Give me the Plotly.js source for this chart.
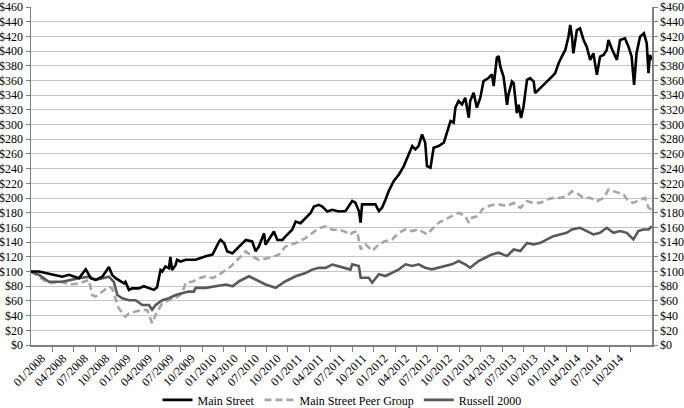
<!DOCTYPE html>
<html>
<head>
<meta charset="utf-8">
<script src="https://cdn.plot.ly/plotly-3.0.1.min.js"></script>
<style>
  html, body { margin: 0; padding: 0; background: #fff; }
  #chart { width: 684px; height: 408px; }
</style>
</head>
<body>
<div id="chart"></div>
<script>
// x values: trading-day index from 01/2008 (category axis of daily prices)
const quarterLabels = ['01/2008','04/2008','07/2008','10/2008','01/2009','04/2009','07/2009','10/2009',
  '01/2010','04/2010','07/2010','10/2010','01/2011','04/2011','07/2011','10/2011',
  '01/2012','04/2012','07/2012','10/2012','01/2013','04/2013','07/2013','10/2013',
  '01/2014','04/2014','07/2014','10/2014'];
const totalDays = 1769;
const blockDays = 61;

const mainStreetDay = [0,23,51,89,108,137,151,156,165,170,184,203,222,231,241,250,265,269,279,288,307,321,336,350,359,369,374,383,393,397,402,412,416,426,
  441,469,498,517,536,540,550,559,574,593,612,630,640,649,664,668,683,692,702,716,725,744,754,768,782,796,806,820,830,844,858,877,896,
  915,924,934,939,943,962,981,991,1000,1010,1019,1033,1048,1062,1076,1086,1095,1104,1114,1123,1128,1138,1147,1161,1176,1185,1195,1204,1209,1218,1228,1237,1247,1251,1261,1270,1280,1289,1304,1313,1318,1327,1332,
  1337,1346,1351,1356,1360,1370,1375,1379,1384,1389,1396,1403,1413,1422,1432,1436,1446,1455,1465,1474,1484,1493,1503,1512,1522,1531,1536,1541,1545,1555,1564,1574,1583,1593,1602,1612,1621,1631,1640,1645,1654,1669,1678,1692,1702,1711,1718,1725,1735,1746,1754,1759,1763,1769];
const mainStreet = [100,100,97,93,95.5,91,100,103,95.5,91,88.6,93,106,95.5,91,88.6,84,86,75,77,77,80,77,75,78.6,102,100,107,104.5,120,102,109,116,113.6,
  116,116,120.7,123,141,143,138.7,127.4,125,134,143,141,127.4,134,152,136.5,147.8,154.5,143,143,147.8,156.8,168,165.8,172.6,179.4,188.4,190.7,188.4,181.6,184,181.6,182.3,
  196,193.7,182.3,166.4,191.4,191.4,191.4,182.3,186.9,198,209.5,223,232,243.5,259.4,270.8,266.2,270.8,286.6,275.3,243.5,241.3,268.5,270.8,275.3,289,304.8,302.5,323,332,327.4,336.5,309.3,332,343.3,323,336.5,359.2,363.7,368.3,352.4,391,393.2,
  378.9,365.3,347.2,326.9,340.5,358.6,356.3,338.2,315.6,326.9,308.8,324.6,360.8,363.1,358.6,342.7,347.2,351.8,356.3,360.8,365.3,369.9,383.4,392.5,401.5,419.6,435.5,419.6,397,428.7,431,415.1,406.1,388,397,367.6,392.5,394.8,401.5,415.1,403.8,388,415.1,417.4,406.1,392.5,354,397,419.6,424.2,410.6,369.9,394.8,388];

const peerDay = [0,23,51,89,108,137,165,174,184,203,222,231,241,250,269,279,298,317,331,345,355,374,393,412,430,441,459,
  479,498,517,536,555,569,593,612,630,649,678,706,725,754,782,801,820,839,858,877,896,910,
  915,929,934,939,953,972,991,1010,1029,1048,1067,1086,1104,1128,1142,1161,1180,1199,1218,1237,1247,1256,1275,1285,1304,1323,1337,
  1356,1375,1394,1413,1432,1451,1469,1488,1507,1526,1541,1555,1574,1593,1612,1631,1645,1659,1673,1688,1702,1716,1735,1749,1759,1769];
const peerGroup = [100,93,84,86,82,84,88.6,68,66,72.7,79.5,77,61,50,38.6,43,45.5,47.7,47.7,29.5,41,57,61,63.6,70.5,84.6,86,
  91,93.6,91,95.8,102.6,107,118.4,127.4,120.7,116,118.4,123,134,138.7,145.5,152.3,159,161.3,156.8,156.8,154,150,
  152.8,155.1,141.5,130.2,137,128,137,141.5,143.8,152.8,157.4,155.1,157.4,150.6,157.4,166.4,171,175.5,180,175.5,166.4,173.3,175.5,184.6,189.1,191.4,191,
  188.9,193.4,186.6,195.7,193.4,193.4,197.9,200.2,200.2,202.4,209.2,207,200.2,200.2,195.7,200.2,211.5,209.2,207,204.7,195.7,193.4,197.9,200.2,186.6,184.3];

const russellDay = [0,23,51,89,137,165,184,203,222,236,246,260,279,298,317,336,345,355,374,393,412,430,449,464,
  469,498,526,555,574,593,621,640,668,697,725,754,782,801,820,839,858,877,896,910,
  915,934,939,962,972,991,1010,1029,1048,1067,1086,1104,1123,1142,1161,1180,1199,1218,1237,1251,1275,1294,1313,1332,
  1356,1375,1394,1413,1432,1451,1469,1488,1507,1526,1541,1564,1583,1602,1621,1640,1659,1678,1697,1716,1730,1744,1759,1769];
const russell2000 = [100,95.5,86,86,91,93,88.6,91,93,86,68,63.6,61,61,54.5,54.5,48,54.5,61,63.6,68,70.5,72.7,72.7,
  77.8,77.8,80,82.3,80,86.8,93.6,89,82.3,77.8,86.8,93.6,98,102.6,105,105,109.4,107,105,102.6,
  109.8,107.5,91.6,91.6,84.8,96.2,93.9,98.4,103,109.8,107.5,109.8,105.2,103,105.2,107.5,109.8,114.3,109.8,105.2,114.3,118.8,123.3,125.6,
  121,130,127.8,139,136.8,139,143.6,148.1,150.4,152.7,157.2,159.5,155,150.4,152.7,159.5,152.7,155,152.7,143.6,155,157.2,157.2,161.7];

const seriesNames = ['Main Street', 'Main Street Peer Group', 'Russell 2000'];

const font = {family: 'Liberation Serif', size: 12, color: '#000'};
const axisGray = '#808080';

const traces = [
  {x: mainStreetDay, y: mainStreet, name: seriesNames[0], type: 'scatter', mode: 'lines',
   xaxis: 'x', yaxis: 'y2', line: {color: '#000000', width: 2.6}},
  {x: peerDay, y: peerGroup, name: seriesNames[1], type: 'scatter', mode: 'lines',
   line: {color: '#a6a6a6', width: 2.6, dash: '7px,4px'}},
  {x: russellDay, y: russell2000, name: seriesNames[2], type: 'scatter', mode: 'lines',
   line: {color: '#595959', width: 2.6}}
];

const labelVals = quarterLabels.map((_, i) => (i + 0.5) * blockDays);
const boundaryVals = quarterLabels.map((_, i) => (i + 1) * blockDays);

const yCommon = {
  range: [0, 460], dtick: 20, tick0: 0, tickprefix: '$',
  showline: true, linecolor: axisGray, linewidth: 1.5,
  ticks: 'outside', ticklen: 4, tickcolor: axisGray, tickwidth: 1,
  zeroline: false, tickfont: font, fixedrange: true, automargin: false,
  ticklabeloverflow: 'allow'
};

const layout = {
  width: 684, height: 408,
  margin: {l: 31, r: 32, t: 7, b: 63, pad: 0, autoexpand: false},
  paper_bgcolor: '#fff', plot_bgcolor: '#fff',
  font: font,
  showlegend: true,
  legend: {orientation: 'h', xref: 'container', yref: 'container',
           x: 0.5, xanchor: 'center', y: 0.02, yanchor: 'middle',
           font: font, itemwidth: 30, tracegroupgap: 0, bgcolor: 'rgba(0,0,0,0)'},
  xaxis: {
    range: [0, totalDays], showgrid: false, zeroline: false,
    showline: true, linecolor: axisGray, linewidth: 1.5,
    tickmode: 'array', tickvals: labelVals, ticktext: quarterLabels,
    ticks: '', tickangle: -45, tickfont: font, automargin: false,
    ticklabeloverflow: 'allow',
    minor: {tickmode: 'array', tickvals: boundaryVals, ticks: 'outside', ticklen: 5,
            tickcolor: axisGray, tickwidth: 1, showgrid: false},
    fixedrange: true
  },
  yaxis: Object.assign({}, yCommon, {side: 'left', showgrid: true, gridcolor: '#c4c4c4', gridwidth: 1}),
  yaxis2: Object.assign({}, yCommon, {side: 'right', overlaying: 'y', showgrid: false})
};

Plotly.newPlot('chart', traces, layout, {displayModeBar: false, staticPlot: true});
</script>
</body>
</html>
